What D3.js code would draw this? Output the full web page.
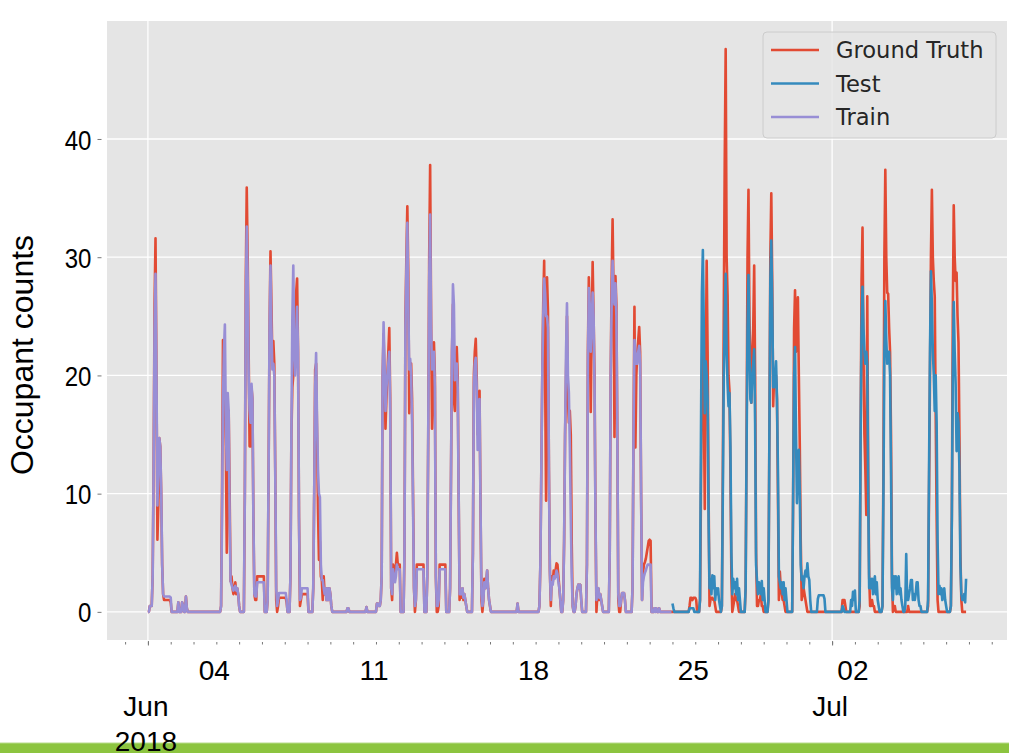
<!DOCTYPE html>
<html>
<head>
<meta charset="utf-8">
<script src="https://cdn.jsdelivr.net/npm/d3@7"></script>
<style>
  body { margin: 0; background: #fff; }
  svg { display: block; }
</style>
</head>
<body>
<svg id="chart"></svg>
<script>
// Chart size
const width = 1009, height = 753;

// Series names / legend order (same as plot order)
const seriesNames = ["Ground Truth", "Test", "Train"];

// Time span of each series (hourly samples, UTC)
const gtSpan = ["2018-06-01T00", "2018-07-06T21"];
const trainSpan = ["2018-06-01T00", "2018-06-23T23"];
const testSpan = ["2018-06-24T00", "2018-07-06T21"];

// Readings: [day (MM-DD), first hour, hourly values...]; hours not listed are 0
const groundTruth = [
  ["06-01", 2, [0.5,0.5,0.5,3,12,26,31.6,20,6.1,9,14.7,14,10,4,1.5,1,1,1,1,1,1,1,0.8]],
  ["06-02", 8, [0.8,0,0,0,0.8,0.5,0,0,1.3,0.3]],
  ["06-04", 5, [0.5,10,23,22,18,14,5,10.4,17,10,2.6,3,2,1.5,2,2.5,1.5,2,1.5,0.5]],
  ["06-05", 6, [10,28,35.9,30,22,14,14,19,18,8,1.5,1,1,3,3,3,3,3,3,3,3]],
  ["06-06", 6, [1,12,24,30.5,26,21,22.9,21,12,1,0,0.5,1.2,1.2,1.2,1.2,1.2,1.2,1.2,1.2,0.8]],
  ["06-07", 6, [3,15,19,20,22,25,27,28.2,22,8,0.5,1,1.5,1.5,1.5,1.5,1.5,1.5,1.5]],
  ["06-08", 6, [2,10,20.5,21,15,8.6,4.4,6,3,2.7,1,3,1.5,2,1,2,1,2,1.5,0.5]],
  ["06-09", 18, [0.3,0.3]],
  ["06-10", 14, [0.4]],
  ["06-11", 1, [0.7,0.7,0.5,0.5,1,3,20,23.5,20,15.5,18,20,22,24,18,2,1,4,3.5,3,4,5,4,4,4]],
  ["06-12", 6, [5,25,30,34.3,28.7,16.8,20,21,18,10,2,0,1,4,4,4,4,4,4,4,4]],
  ["06-13", 6, [3,15,30,37.8,25,15.5,18,22.8,20,3,0,0,0.5,4,4,4,4,4,4,4]],
  ["06-14", 6, [2,12,22,26,18,17,21,22.4,20,10,1,1.5,1.2,2,1,1.5,1,0.5]],
  ["06-15", 6, [5,20,22,23.1,20,15,16,18.7,9,1,0,1,2.8,2,2.5,3.5,2,1,0.5]],
  ["06-17", 5, [0.7]],
  ["06-18", 4, [0.5,4,12,20,26,29.7,20,9.4,28.3,25.5,12,3.5,0.5,3,2.5,3.5,3,3.5,4.1,4,3,2,1]],
  ["06-19", 5, [1,6,15,20,25,18,16,17,15,5.8,0.5,0,0,0.5,1.5,2,2.3,2,2.3,1]],
  ["06-20", 6, [4,22,28.3,25,16.9,24,29.6,25,20,8,0,1.5,2,1,1.5,1,0.5]],
  ["06-21", 6, [5,20,28,33.2,27,14.8,28.4,26,15,1,0,0,1,1.6,1.6,1.6,1]],
  ["06-22", 6, [2,15,25.8,13.9,20,22,23,24.1,22,10,1,3.3,4,4.2,4.5,5,5.5,6,6.1,6]],
  ["06-23", 5, [0.3,0,0.3,0,0,0.3]],
  ["06-24", 18, [0.5,1.2,1.2,1,1.2,1.2,1.2,1]],
  ["06-25", 5, [1,10,20,25,18,8.7,20,29.7,22,10,0.5,1,1.2,1.2,1,1,0.5]],
  ["06-26", 4, [0.5,12,25,38,47.6,30,26.8,20,18.7,12,3,0,0.5,1,1.5,1,1,0.5]],
  ["06-27", 5, [2,15,30,35.7,25,20,17.7,22,24,29.3,20,5,0.5,0.5,1,1,1.5,0.5,0.5]],
  ["06-28", 5, [1,15,30,35.4,28,17.4,20,20,20,18,10,1,3.4,2,1.5,1,1,0.5]],
  ["06-29", 7, [10,24,27.2,22,25,26.6,20,14,6,1,1.5,2,1.5,1,0.5]],
  ["07-01", 11, [1,1,1,0.5]],
  ["07-02", 5, [0.5,15,28,32.5,22,15,12,8.2,26.7,12,3,0.5,0.5,1,0.5,0.5]],
  ["07-03", 5, [0.5,12,30,37.4,30,27,26.9,24,22,15,3,0,0.5,0.5]],
  ["07-04", 8, [0.5]],
  ["07-05", 5, [0.5,10,20,30,35.7,30,28,26.7,17,8,1]],
  ["07-06", 5, [0.5,8,25,34.4,30,28,28.7,25,22.8,15,5,1]]
];

const train = [
  ["06-01", 2, [0.5,0.5,0.5,3,12,24,28.6,20,9,12,14.7,14,10,4,1.5,1.3,1.3,1.3,1.3,1.3,1.3,1.3,1.2]],
  ["06-02", 8, [0.8,0,0,0,0.8,0.5,0,0,1.3,0.3]],
  ["06-04", 5, [0.5,8,18,22,24.3,16,12,18.5,17,8,2.6,2.3,2,1.8,2,2.2,1.8,2,1.5,0.5]],
  ["06-05", 6, [10,26,32.6,28,20,17,16,19.3,18,8,1.5,1.3,1.3,2.5,2.5,2.5,2.5,2.5,2.5,2.5,2.5]],
  ["06-06", 6, [1,12,24,29.3,24,20.5,21,20,12,2,0.5,1,1.6,1.6,1.6,1.6,1.6,1.6,1.6,1.6,1]],
  ["06-07", 6, [3,15,25,29.3,22,20,22,25.8,22,8,1,1.2,2,2,2,2,2,2,2]],
  ["06-08", 6, [2,10,19,21.9,16,12,10,9.7,4,2.7,2.7,2,1.5,2,1,2,1,2,1.5,0.5]],
  ["06-09", 18, [0.3,0.3]],
  ["06-10", 14, [0.4]],
  ["06-11", 1, [0.7,0.7,0.5,0.5,1,3,20,24.5,21,17,19,20,21,22,17,2,1.5,3.6,3,2.5,3,4,3.6,3.6,3.6]],
  ["06-12", 6, [5,24,29,32.9,26,20.5,21.4,20,16,9,2,0.5,1,3.6,3.6,3.6,3.6,3.6,3.6,3.6,3.6]],
  ["06-13", 6, [3,15,28,33.6,24,20.5,21,22,19,3,0.5,0.5,1,3.6,3.6,3.6,3.6,3.6,3.6,3.6]],
  ["06-14", 6, [2,12,22,27.7,26,19.6,20,21,19,10,1.5,1.5,1.5,2,1.2,1.5,1,0.5]],
  ["06-15", 6, [5,19,21,21.5,19,13.7,16,18,9,1.5,0.5,1,2.5,2,2.5,3.5,2,1,0.5]],
  ["06-17", 5, [0.7]],
  ["06-18", 4, [0.5,4,12,20,25,28.2,27,25,25,24,12,3.4,1,2.5,2.3,3,2.8,3,3.5,3.2,2.5,2,1]],
  ["06-19", 5, [1,6,15,22,26.1,20,18.5,14,8,3,0.5,0,0,0.5,1.5,2,2.3,2,2.3,1]],
  ["06-20", 6, [4,21,27.4,26,22,24,27,25,19,8,1,1.8,2,1.2,1.5,1,0.5]],
  ["06-21", 6, [5,20,26,29.7,27,26,27.8,25,15,1.5,0.5,0.5,1,1.6,1.6,1.6,1]],
  ["06-22", 6, [2,15,23,22,21,21,22,22.5,21,10,1,2.5,3,3.3,3.5,3.8,4,4,4,4]],
  ["06-23", 5, [0.3,0,0.3,0,0,0.3]]
];

const test = [
  ["06-24", 0, [0.7,0.3]],
  ["06-24", 18, [0.3,0.3,0.3,0.3,0.3]],
  ["06-25", 5, [1,15,27,30.6,24,16.8,21.2,20,18,8,2,2.8,1.5,3.1,2,3,1,2,1.5,2,1,0.5]],
  ["06-26", 4, [0.5,10,20,25,28.6,22,19.3,17.4,18.5,14,5,1.5,2.8,2,2.5,1.5,2.8,1,2,1]],
  ["06-27", 5, [2,14,24,28.5,22,18,17.7,20,21,22.2,16,4,2.6,1.5,2.5,2,1.5,2.6,1,2,1]],
  ["06-28", 5, [1,15,28,31.4,26,19,19,20,21.2,18,12,3,2.5,2,2.5,1.5,2.5,1,2,1]],
  ["06-29", 7, [10,20,22.4,15,9.2,12,13.7,10,4,2.7,3,2,3,3.5,3,4.1,3,2.7,1]],
  ["06-30", 9, [1.1,1.4,1.4,1.4,1.4,1.4,1.4,1.1]],
  ["07-01", 11, [0.5,0.3]],
  ["07-01", 20, [1,0.5,1.7,1,1.8]],
  ["07-02", 5, [1,15,24,27.5,24,22,21,22,21,10,2,2.8,2,2.8,1.5,2.5,3,1.5,2.5,1,0.5]],
  ["07-03", 5, [0.5,10,22,26.3,23,21,22,22,20,12,2,1,3,2,3,1.5,2.5,3,1.5,2,1,0.5]],
  ["07-04", 5, [0.5,4.9,1,1,1.5,2,2.7,2.7,1,1.5,1,1.5,2.5,2.5,1,0.5,0.5]],
  ["07-05", 5, [1,12,22,28.8,26,22,20.1,17,20,16,6,1.5,2.2,1.5,2,1,1.5,2,1,0.5]],
  ["07-06", 5, [0.5,8,20,26.2,22,19.3,13.6,16.8,16,12,4,1.5,1,1,1.5,0.8,2.8]]
];

// Axis ticks and labels
const yTicks = [0, 10, 20, 30, 40];
const weekTicks = ["2018-06-04", "2018-06-11", "2018-06-18", "2018-06-25", "2018-07-02"];
const weekLabels = ["04", "11", "18", "25", "02"];
const monthTicks = ["2018-06-01", "2018-07-01"];
const monthLabels = [["Jun", "2018"], ["Jul"]];

// ---- build hourly series ----
const parseHour = d3.utcParse("%Y-%m-%dT%H");
const parseDay = d3.utcParse("%Y-%m-%d");

function buildSeries(rows, span) {
  const start = parseHour(span[0]), end = parseHour(span[1]);
  const hours = d3.utcHour.range(start, d3.utcHour.offset(end, 1));
  const vals = new Map(hours.map(t => [+t, 0]));
  rows.forEach(([day, h0, list]) => {
    const base = parseDay("2018-" + day);
    list.forEach((v, i) => {
      const k = +d3.utcHour.offset(base, h0 + i);
      if (vals.has(k)) vals.set(k, v);
    });
  });
  return hours.map(t => ({ t, v: vals.get(+t) }));
}

const series = [
  { name: seriesNames[0], color: "#E24A33", data: buildSeries(groundTruth, gtSpan) },
  { name: seriesNames[1], color: "#348ABD", data: buildSeries(test, testSpan) },
  { name: seriesNames[2], color: "#988ED5", data: buildSeries(train, trainSpan) }
];

// ---- layout ----
const plot = { left: 107, right: 1007, top: 21, bottom: 640 };

const svg = d3.select("#chart").attr("width", width).attr("height", height);

// x: data extent with 5% margins (matplotlib style)
const tExt = d3.extent(series.flatMap(s => s.data), d => d.t);
const tPad = (tExt[1] - tExt[0]) * 0.05;
const x = d3.scaleUtc()
  .domain([new Date(+tExt[0] - tPad), new Date(+tExt[1] + tPad)])
  .range([plot.left, plot.right]);

const vMax = d3.max(series.flatMap(s => s.data), d => d.v);
const y = d3.scaleLinear()
  .domain([-0.05 * vMax, 1.05 * vMax])
  .range([plot.bottom, plot.top]);

// Background
svg.append("rect")
  .attr("x", plot.left).attr("y", plot.top)
  .attr("width", plot.right - plot.left).attr("height", plot.bottom - plot.top)
  .attr("fill", "#E5E5E5");

// Grid
svg.append("g").selectAll("line").data(yTicks).enter().append("line")
  .attr("x1", plot.left).attr("x2", plot.right)
  .attr("y1", d => y(d)).attr("y2", d => y(d))
  .attr("stroke", "#fff").attr("stroke-width", 1.3);
svg.append("g").selectAll("line").data(monthTicks).enter().append("line")
  .attr("x1", d => x(parseDay(d))).attr("x2", d => x(parseDay(d)))
  .attr("y1", plot.top).attr("y2", plot.bottom)
  .attr("stroke", "#fff").attr("stroke-width", 1.3);

// Lines
const line = d3.line().x(d => x(d.t)).y(d => y(d.v));
svg.append("g").selectAll("path").data(series).enter().append("path")
  .attr("d", d => line(d.data))
  .attr("fill", "none")
  .attr("stroke", d => d.color)
  .attr("stroke-width", 2.6)
  .attr("stroke-linejoin", "round");

// Y axis
const yAxis = svg.append("g")
  .attr("transform", `translate(101.5,0)`)
  .call(d3.axisLeft(y).tickValues(yTicks).tickSize(4).tickPadding(6));
yAxis.select(".domain").remove();
yAxis.selectAll(".tick line").attr("stroke", "#777");
yAxis.selectAll(".tick text")
  .attr("font-family", "'Liberation Sans', Arial, sans-serif")
  .attr("font-size", 28)
  .attr("fill", "#000")
  .attr("x", -10 / 0.86)
  .attr("dy", "0.36em")
  .attr("transform", "scale(0.86,1)");

// X axis: daily minor ticks, monthly major ticks
const xMinor = svg.append("g")
  .attr("transform", `translate(0,642)`)
  .call(d3.axisBottom(x).ticks(d3.utcDay.every(1)).tickSize(2.5).tickFormat(""));
xMinor.select(".domain").remove();
xMinor.selectAll(".tick line").attr("stroke", "#777");

const xMajor = svg.append("g")
  .attr("transform", `translate(0,641)`)
  .call(d3.axisBottom(x).tickValues(monthTicks.map(parseDay)).tickSize(4.5).tickFormat(""));
xMajor.select(".domain").remove();
xMajor.selectAll(".tick line").attr("stroke", "#777");

const tickFont = "'Liberation Sans', Arial, sans-serif";
svg.append("g").selectAll("text").data(weekTicks).enter().append("text")
  .attr("x", d => x(parseDay(d)) - 2)
  .attr("y", 680)
  .attr("text-anchor", "middle")
  .attr("font-family", tickFont).attr("font-size", 28)
  .text((d, i) => weekLabels[i]);

// Y label
svg.append("text")
  .attr("transform", "translate(33,355) rotate(-90)")
  .attr("text-anchor", "middle")
  .attr("font-family", tickFont).attr("font-size", 32)
  .text("Occupant counts");

// Legend
const legend = svg.append("g");
legend.append("rect")
  .attr("x", 763).attr("y", 32).attr("width", 233).attr("height", 106)
  .attr("rx", 4)
  .attr("fill", "#E5E5E5").attr("fill-opacity", 0.8)
  .attr("stroke", "#CCCCCC").attr("stroke-width", 1);
series.forEach((s, i) => {
  const ly = 50 + i * 33.5;
  legend.append("line")
    .attr("x1", 771).attr("x2", 819).attr("y1", ly).attr("y2", ly)
    .attr("stroke", s.color).attr("stroke-width", 2.6);
  legend.append("text")
    .attr("x", 836).attr("y", ly + 8)
    .attr("font-family", "'DejaVu Sans', sans-serif").attr("font-size", 22.6)
    .attr("fill", "#262626")
    .text(s.name);
});

// Green strip at the bottom of the slide
svg.append("rect")
  .attr("x", 0).attr("y", 743).attr("width", width).attr("height", 10)
  .attr("fill", "#8CC43F");
svg.append("line")
  .attr("x1", 0).attr("x2", width).attr("y1", 743).attr("y2", 743)
  .attr("stroke", "#B8DB8C").attr("stroke-width", 1);

// Month labels (drawn last so "2018" sits over the strip)
const monthG = svg.append("g").selectAll("text").data(monthTicks).enter().append("text")
  .attr("text-anchor", "middle")
  .attr("font-family", tickFont).attr("font-size", 28);
monthG.each(function(d, i) {
  const t = d3.select(this);
  monthLabels[i].forEach((s, j) => {
    t.append("tspan").attr("x", x(parseDay(d)) - 2).attr("y", 716 + j * 35).text(s);
  });
});
</script>
</body>
</html>
